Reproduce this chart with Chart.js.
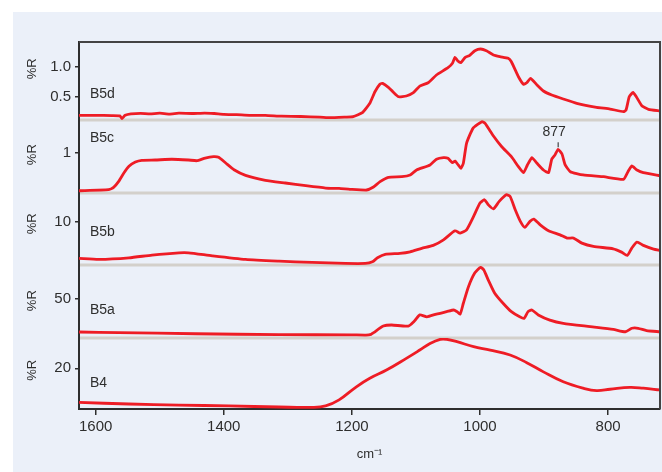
<!DOCTYPE html>
<html>
<head>
<meta charset="utf-8">
<script src="https://cdn.jsdelivr.net/npm/chart.js@4.4.1/dist/chart.umd.min.js"></script>
<style>
  html, body { margin: 0; background: #fff; }
  #wrap { position: absolute; left: 13px; top: 12px; width: 649px; height: 460px; background: #ebf0f9; }
</style>
</head>
<body>
<div id="wrap"><canvas id="ir" width="649" height="460"></canvas></div>
<script>
// IR reflectance spectra, stacked panels (wavenumber in cm-1, reflectance in %R)

// ── B5d
const wnB5d = [1626, 1600, 1575, 1562, 1559, 1554, 1545, 1530, 1515, 1500, 1485, 1470, 1450, 1430, 1415,
  1400, 1380, 1360, 1335, 1310, 1280, 1250, 1234, 1210, 1198, 1183, 1172, 1164, 1156, 1152, 1143, 1136,
  1127, 1115, 1104, 1094, 1081, 1068, 1050, 1043, 1039, 1035, 1030, 1023, 1016, 1008, 999, 990, 979, 969,
  956, 951, 940, 932, 927, 921, 911, 901, 888, 870, 849, 818, 797, 776, 772, 767, 761, 756, 747, 737, 719];
const rB5d = [0.19, 0.19, 0.185, 0.18, 0.135, 0.19, 0.215, 0.222, 0.215, 0.225, 0.21, 0.225, 0.22, 0.228, 0.22,
  0.205, 0.2, 0.19, 0.19, 0.175, 0.17, 0.16, 0.15, 0.16, 0.167, 0.24, 0.39, 0.583, 0.712, 0.723, 0.657, 0.583,
  0.50, 0.512, 0.567, 0.678, 0.733, 0.862, 0.983, 1.057, 1.157, 1.10, 1.067, 1.157, 1.19, 1.267, 1.295, 1.267, 1.195, 1.167,
  1.14, 1.083, 0.833, 0.707, 0.733, 0.807, 0.695, 0.595, 0.528, 0.462, 0.39, 0.323, 0.295, 0.25, 0.278, 0.50, 0.573, 0.50, 0.345, 0.29, 0.262];

// ── B5c
const wnB5c = [1626, 1580, 1572, 1564, 1556, 1548, 1538, 1528, 1507, 1481, 1455, 1442, 1429, 1416, 1408,
  1397, 1384, 1366, 1335, 1304, 1272, 1241, 1220, 1203, 1177, 1167, 1156, 1143, 1122, 1109, 1099, 1078,
  1068, 1057, 1050, 1043, 1039, 1034, 1030, 1026, 1021, 1011, 997, 992, 979, 966, 951, 940, 932, 926,
  919, 911, 901, 893, 888, 883, 878, 872, 867, 859, 839, 807, 776, 769, 763, 755, 745, 719];
const rB5c = [0.479, 0.493, 0.526, 0.608, 0.722, 0.814, 0.873, 0.896, 0.9, 0.91, 0.9, 0.89, 0.927, 0.945, 0.937,
  0.859, 0.767, 0.69, 0.622, 0.585, 0.548, 0.516, 0.51, 0.499, 0.489, 0.526, 0.603, 0.663, 0.671, 0.695, 0.763, 0.832,
  0.91, 0.932, 0.923, 0.863, 0.886, 0.832, 0.786, 0.855, 1.129, 1.334, 1.425, 1.403, 1.229, 1.082, 0.945, 0.808, 0.726, 0.832,
  0.932, 0.855, 0.763, 0.726, 0.91, 0.968, 1.047, 0.982, 0.832, 0.74, 0.695, 0.671, 0.636, 0.74, 0.818, 0.763, 0.726, 0.685];

// ── B5b
const wnB5b = [1626, 1595, 1548, 1512, 1470, 1455, 1418, 1366, 1314, 1262, 1210, 1179, 1168, 1160, 1148,
  1125, 1109, 1091, 1073, 1057, 1039, 1031, 1021, 1010, 1000, 993, 987, 979, 970, 959, 953, 945, 937, 930,
  922, 916, 906, 893, 875, 864, 854, 841, 823, 792, 779, 770, 763, 755, 745, 729, 719];
const rB5b = [4.92, 4.78, 5.0, 5.38, 5.69, 5.69, 5.28, 4.78, 4.54, 4.36, 4.22, 4.22, 4.44, 5.0, 5.47,
  5.61, 5.83, 6.31, 6.72, 7.5, 8.75, 8.43, 8.89, 10.75, 12.6, 13.06, 12.36, 11.8, 12.83, 13.75, 13.53, 11.67, 10.06, 9.22,
  10.06, 10.38, 9.58, 8.75, 8.19, 7.74, 7.74, 7.04, 6.58, 6.25, 5.79, 5.33, 6.35, 7.18, 6.72, 6.21, 6.03];

// ── B5a
const wnB5a = [1626, 1564, 1444, 1314, 1200, 1178, 1170, 1166, 1151, 1138, 1112, 1102, 1094, 1083, 1068,
  1052, 1041, 1036, 1031, 1026, 1018, 1008, 999, 994, 987, 977, 964, 951, 938, 931, 925, 919, 909, 891,
  870, 828, 792, 773, 763, 753, 740, 719];
const rB5a = [31.75, 31.4, 30.8, 30.3, 30.2, 30.1, 30.5, 31.4, 35.0, 35.6, 35.0, 37.9, 41.1, 40.1, 41.6,
  42.9, 43.8, 42.9, 41.6, 47.5, 56.6, 64.2, 67.2, 65.7, 60.2, 53.0, 47.5, 42.9, 40.1, 39.3, 42.9, 43.8, 41.1, 38.3,
  36.5, 34.7, 33.2, 31.9, 33.8, 33.8, 32.5, 31.9];

// ── B4
const wnB4 = [1626, 1548, 1470, 1392, 1314, 1262, 1241, 1220, 1193, 1172, 1146, 1115, 1094, 1078, 1062,
  1052, 1036, 1010, 984, 953, 927, 901, 870, 839, 818, 797, 766, 745, 719];
const rB4 = [10.4, 9.95, 9.65, 9.4, 9.1, 9.0, 9.4, 11.1, 14.8, 17.2, 19.5, 22.8, 25.15, 27.0, 28.17,
  28.17, 27.5, 26.1, 25.15, 23.75, 21.6, 19.0, 16.2, 14.4, 13.7, 14.1, 14.65, 14.4, 13.9];

// ── tick labels
const xTicks    = [1600, 1400, 1200, 1000, 800];
const ticksB5d  = [0.5, 1.0];
const ticksB5c  = [1];
const ticksB5b  = [10];
const ticksB5a  = [50];
const ticksB4   = [20];
const peakLabel = { text: '877', wn: 878, r: 1.047 };

const FONT = "'Liberation Sans', Arial, sans-serif";
const INK  = '#2e2e2e';
const RED  = '#ee1c25';

// top panel first
const PANELS = [
  { id: 'yB5d', name: 'B5d', wn: wnB5d, r: rB5d, ticks: ticksB5d, min: 0.112, max: 1.412, weight: 78, dec: 1, labelDy: 52, tension: 0.15 },
  { id: 'yB5c', name: 'B5c', wn: wnB5c, r: rB5c, ticks: ticksB5c, min: 0.448, max: 1.448, weight: 73, dec: 0, labelDy: 18, tension: 0.15 },
  { id: 'yB5b', name: 'B5b', wn: wnB5b, r: rB5b, ticks: ticksB5b, min: 4,     max: 14,    weight: 72, dec: 0, labelDy: 39, tension: 0.2 },
  { id: 'yB5a', name: 'B5a', wn: wnB5a, r: rB5a, ticks: ticksB5a, min: 28.47, max: 68.47, weight: 73, dec: 0, labelDy: 45, tension: 0.2 },
  { id: 'yB4',  name: 'B4',  wn: wnB4,  r: rB4,  ticks: ticksB4,  min: 8.54,  max: 28.54, weight: 71, dec: 0, labelDy: 45, tension: 0.4 }
];

function panelAxis(p) {
  return {
    type: 'linear', position: 'left', stack: 'ir', stackWeight: p.weight,
    min: p.min, max: p.max,
    afterFit: s => { s.width = 66; },
    afterBuildTicks: s => { s.ticks = p.ticks.map(v => ({ value: v })); },
    ticks: { color: INK, font: { family: FONT, size: 15 }, padding: 4,
             callback: v => Number(v).toFixed(p.dec) },
    grid : { drawOnChartArea: false, tickLength: 4, tickColor: INK, lineWidth: 1.5 },
    border: { color: INK, width: 2 }
  };
}

const scales = {
  x: {
    type: 'linear', position: 'bottom', reverse: true, min: 719, max: 1626,
    afterFit: s => { s.height = 63; },
    afterBuildTicks: s => { s.ticks = xTicks.map(v => ({ value: v })); },
    ticks: { color: INK, font: { family: FONT, size: 15 }, padding: 3, callback: v => String(v) },
    grid : { drawOnChartArea: false, tickLength: 6, tickColor: INK, lineWidth: 1.5 },
    border: { color: INK, width: 2 },
    title: { display: true, text: 'cm\u207B\u00B9', color: INK, font: { family: FONT, size: 13 },
             padding: { top: 0, bottom: 10 } }
  }
};
// left stacked boxes are placed last-defined first, so add the bottom panel first
PANELS.slice().reverse().forEach(p => { scales[p.id] = panelAxis(p); });

const datasets = PANELS.map(p => ({
  label: p.name,
  data: p.wn.map((w, i) => ({ x: w, y: p.r[i] })),
  xAxisID: 'x', yAxisID: p.id,
  borderColor: RED, borderWidth: 2.8, pointRadius: 0,
  tension: p.tension, fill: false
}));

const irDecor = {
  id: 'irDecor',
  beforeDatasetsDraw(chart) {
    const { ctx, chartArea: a } = chart;
    ctx.save();
    ctx.strokeStyle = '#d3d0cb';
    ctx.lineWidth = 3;
    PANELS.slice(0, 4).forEach(p => {
      const y = chart.scales[p.id].bottom;
      ctx.beginPath(); ctx.moveTo(a.left + 1, y); ctx.lineTo(a.right, y); ctx.stroke();
    });
    ctx.restore();
  },
  afterDraw(chart) {
    const { ctx, chartArea: a } = chart;
    ctx.save();
    // frame: top and right
    ctx.strokeStyle = '#444'; ctx.lineWidth = 2;
    ctx.beginPath(); ctx.moveTo(a.left, a.top); ctx.lineTo(a.right, a.top); ctx.lineTo(a.right, a.bottom); ctx.stroke();

    ctx.fillStyle = INK;
    PANELS.forEach(p => {
      const s = chart.scales[p.id];
      // %R axis titles
      const ty = s.getPixelForValue(Math.max(...p.ticks)) + 2;
      ctx.save();
      ctx.translate(19, ty);
      ctx.rotate(-Math.PI / 2);
      ctx.font = '13px ' + FONT;
      ctx.textAlign = 'center'; ctx.textBaseline = 'middle';
      ctx.fillText('%R', 0, 0);
      ctx.restore();
      // sample names
      ctx.font = '14px ' + FONT;
      ctx.textAlign = 'left'; ctx.textBaseline = 'middle';
      ctx.fillText(p.name, a.left + 11, s.top + p.labelDy);
    });

    // 877 peak marker
    const px = chart.scales.x.getPixelForValue(peakLabel.wn);
    const py = chart.scales.yB5c.getPixelForValue(peakLabel.r);
    ctx.strokeStyle = '#222'; ctx.lineWidth = 1;
    ctx.beginPath(); ctx.moveTo(px, py - 7); ctx.lineTo(px, py - 2); ctx.stroke();
    ctx.font = '14px ' + FONT;
    ctx.textAlign = 'center'; ctx.textBaseline = 'middle';
    ctx.fillText(peakLabel.text, px - 4, py - 17);
    ctx.restore();
  }
};

new Chart(document.getElementById('ir'), {
  type: 'line',
  data: { datasets },
  options: {
    responsive: false,
    animation: false,
    events: [],
    layout: { padding: { top: 30, right: 2, left: 0, bottom: 0 } },
    plugins: { legend: { display: false }, tooltip: { enabled: false } },
    scales
  },
  plugins: [irDecor]
});
</script>
</body>
</html>
